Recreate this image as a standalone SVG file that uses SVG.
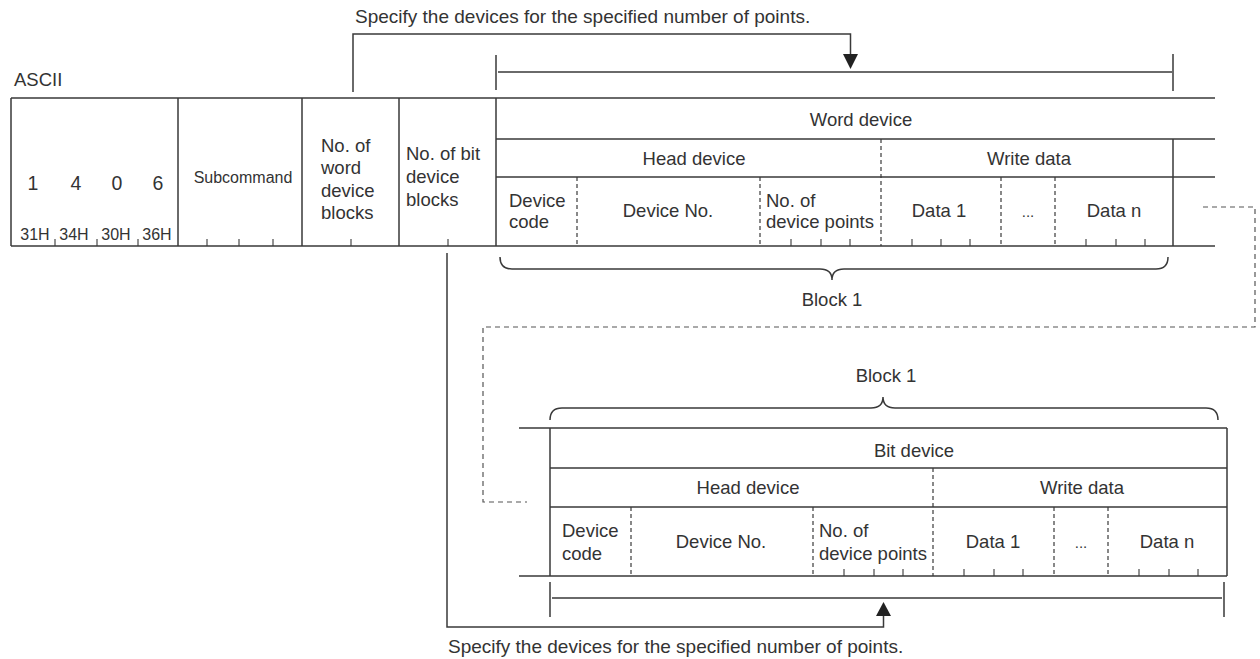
<svg xmlns="http://www.w3.org/2000/svg" width="1260" height="659" viewBox="0 0 1260 659">
<style>
text{font-family:"Liberation Sans",Arial,sans-serif;fill:#333;font-size:18.5px}
.s{font-size:16px}.h{font-size:16px}.d{font-size:19.5px}
.m{text-anchor:middle}
.ln{stroke:#3a3a3a;stroke-width:1.5;fill:none}
.tk{stroke:#3a3a3a;stroke-width:1.1;fill:none}
.ds{stroke:#3a3a3a;stroke-width:1.2;stroke-dasharray:4 3;fill:none}
.cd{stroke:#555;stroke-width:1.2;stroke-dasharray:5 4;fill:none}
.ah{fill:#222;stroke:none}
</style>
<rect width="1260" height="659" fill="#fff"/>
<text x="14" y="86">ASCII</text>
<g id="top-table">
<path class="ln" d="M11,98H1215M11,246H1215M11,98V246M178,98V246M302,98V246M399,98V246M496,98V246M496,139H1215M496,177H1215M1173,139V246"/>
<path class="ds" d="M881,139V246M577,177V246M760,177V246M1001,177V246M1055,177V246"/>
<path class="tk" d="M55,239V246M97,239V246M138,239V246M207,239V246M239,239V246M273,239V246M351,239V246M448,239V246M791,239V246M821,239V246M850,239V246M912,239V246M941,239V246M970,239V246M1086,239V246M1116,239V246M1145,239V246"/>
</g>
<g id="command">
<text class="d m" x="33" y="190">1</text>
<text class="d m" x="76" y="190">4</text>
<text class="d m" x="117" y="190">0</text>
<text class="d m" x="158" y="190">6</text>
<text class="h m" x="35" y="240">31H</text>
<text class="h m" x="74" y="240">34H</text>
<text class="h m" x="116" y="240">30H</text>
<text class="h m" x="157" y="240">36H</text>
</g>
<g id="subcommand"><text class="s m" x="243" y="183">Subcommand</text></g>
<g id="word-blocks">
<text x="321" y="152">No. of</text><text x="321" y="174">word</text><text x="321" y="196.5">device</text><text x="321" y="218.5">blocks</text>
</g>
<g id="bit-blocks">
<text x="406" y="160">No. of bit</text><text x="406" y="183">device</text><text x="406" y="206">blocks</text>
</g>
<g id="word-device">
<text class="m" x="861" y="126">Word device</text>
<text class="m" x="694" y="165">Head device</text>
<text class="m" x="1029" y="165">Write data</text>
<text x="509" y="207">Device</text><text x="509" y="228">code</text>
<text class="m" x="668" y="217">Device No.</text>
<text x="766" y="207">No. of</text><text x="766" y="228">device points</text>
<text class="m" x="939" y="217">Data 1</text>
<text class="m" x="1028" y="217" style="font-size:15px">...</text>
<text class="m" x="1114" y="217">Data n</text>
</g>
<g id="block1-top">
<path class="ln" d="M500,257Q500,269 512,269H820Q832,269 832,280Q832,269 844,269H1156Q1168,269 1168,257"/>
<text class="m" x="832" y="306">Block 1</text>
</g>
<g id="bottom-table">
<path class="ln" d="M519,428H1227M519,576H1227M550,428V576M1227,428V576M550,468H1227M550,507H1227"/>
<path class="ds" d="M933,468V576M631,507V576M813,507V576M1054,507V576M1108,507V576"/>
<path class="tk" d="M844,569V576M874,569V576M903,569V576M964,569V576M994,569V576M1023,569V576M1139,569V576M1169,569V576M1198,569V576"/>
</g>
<g id="bit-device">
<text class="m" x="914" y="457">Bit device</text>
<text class="m" x="748" y="494">Head device</text>
<text class="m" x="1082" y="494">Write data</text>
<text x="562" y="537">Device</text><text x="562" y="560">code</text>
<text class="m" x="721" y="548">Device No.</text>
<text x="819" y="537">No. of</text><text x="819" y="560">device points</text>
<text class="m" x="993" y="548">Data 1</text>
<text class="m" x="1081" y="548" style="font-size:15px">...</text>
<text class="m" x="1167" y="548">Data n</text>
</g>
<g id="block1-bottom">
<text class="m" x="886" y="382">Block 1</text>
<path class="ln" d="M550,420Q550,408 562,408H871Q883,408 883,397Q883,408 895,408H1206Q1218,408 1218,420"/>
</g>
<g id="connectors">
<path class="ln" d="M353,92V34H850.5V55"/>
<polygon class="ah" points="843,54 858,54 850.5,69"/>
<path class="ln" d="M496,55V90M498,72H1172M1173,54V91"/>
<text x="355" y="23" style="font-size:19px">Specify the devices for the specified number of points.</text>
<path class="cd" d="M1203,207H1255V327H483V502H527"/>
<path class="ln" d="M447,253V627H883.5V615"/>
<polygon class="ah" points="876,616 891,616 883.5,602"/>
<path class="ln" d="M550,582V617M552,598H1222M1224,582V617"/>
<text x="448" y="653" style="font-size:19px">Specify the devices for the specified number of points.</text>
</g>
</svg>
